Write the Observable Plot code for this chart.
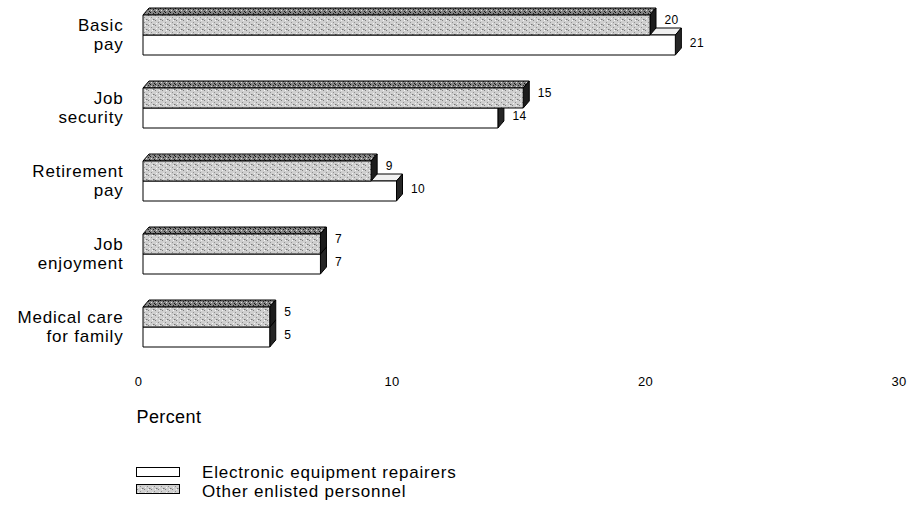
<!DOCTYPE html>
<html><head><meta charset="utf-8">
<script src="https://cdn.jsdelivr.net/npm/d3@7"></script>
<script src="https://cdn.jsdelivr.net/npm/@observablehq/plot@0.6"></script>
<style>
body{margin:0;background:#fff;font-family:"Liberation Sans",Arial,Helvetica,sans-serif;color:#000;}
#chart{position:relative;width:917px;}
#chart svg text{letter-spacing:0.4px;}
#chart svg .cat text{letter-spacing:0.8px;}
#legend{position:relative;width:917px;height:64px;}
#legend .lbox{position:absolute;}
#legend .ltxt{position:absolute;left:202px;font-size:17px;line-height:17px;letter-spacing:0.8px;white-space:nowrap;}
</style></head><body><div id="chart"></div>
<script>
const categories = ["Basic pay","Job security","Retirement pay","Job enjoyment","Medical care for family"];
const categoryLabels = ["Basic\npay","Job\nsecurity","Retirement\npay","Job\nenjoyment","Medical care\nfor family"];
const repairers = [21,14,10,7,5];
const otherEnlisted = [20,15,9,7,5];
const xTicks = [0,10,20,30];
const seriesNames = ["Electronic equipment repairers","Other enlisted personnel"];
const axisTitle = "Percent";

const rows = categories.map((c,i)=>({category:c,label:categoryLabels[i],repairers:repairers[i],other:otherEnlisted[i]}));

const PAD_IN = 0.4576;
const DX = 6, DY = 7;
const H = 445;

const patternDefs = `
<pattern id="stipL" width="7" height="5" patternUnits="userSpaceOnUse">
  <rect width="7" height="5" fill="#cfcfcf"/>
  <rect x="1" y="0" width="1" height="1" fill="#808080"/>
  <rect x="4" y="2" width="1" height="1" fill="#8e8e8e"/>
  <rect x="2" y="3" width="1" height="1" fill="#f4f4f4"/>
  <rect x="6" y="4" width="1" height="1" fill="#777"/>
  <rect x="5" y="0" width="1" height="1" fill="#f6f6f6"/>
  <rect x="0" y="4" width="1" height="1" fill="#a0a0a0"/>
</pattern>
<pattern id="stipD" width="5" height="4" patternUnits="userSpaceOnUse">
  <rect width="5" height="4" fill="#858585"/>
  <rect x="0" y="0" width="1" height="1" fill="#111"/>
  <rect x="3" y="1" width="1" height="1" fill="#222"/>
  <rect x="1" y="2" width="1" height="1" fill="#ddd"/>
  <rect x="4" y="3" width="1" height="1" fill="#1a1a1a"/>
</pattern>`;

function poly(g, pts, fill) {
  g.append("polygon")
    .attr("points", pts.map(p => p.join(",")).join(" "))
    .attr("fill", fill).attr("stroke", "#000").attr("stroke-width", 1)
    .attr("stroke-linejoin", "round");
}

function drawBar(g, x0, xv, yT, yB, front, top, side) {
  poly(g, [[x0, yT], [x0 + DX, yT - DY], [xv + DX, yT - DY], [xv, yT]], top);
  poly(g, [[xv, yT], [xv + DX, yT - DY], [xv + DX, yB - DY], [xv, yB]], side);
  poly(g, [[x0, yT], [xv, yT], [xv, yB], [x0, yB]], front);
}

function bars3d(index, scales) {
  const x = scales.x, y = scales.y;
  const step = y(categories[1]) - y(categories[0]);
  let bw = (typeof y.bandwidth === "function") ? y.bandwidth() : y.bandwidth;
  if (!(bw > 0)) bw = step * (1 - PAD_IN);
  const g = d3.create("svg:g");
  g.append("defs").html(patternDefs);
  const x0 = x(0);
  rows.forEach(r => {
    const y0 = y(r.category), h = bw / 2;
    drawBar(g, x0, x(r.repairers), y0 + h, y0 + bw, "#fff", "#f0f0f0", "#262626");
    drawBar(g, x0, x(r.other), y0, y0 + h, "url(#stipL)", "url(#stipD)", "#1c1c1c");
  });
  return g.node();
}

const chart = Plot.plot({
  width: 917,
  height: H,
  marginLeft: 143,
  marginRight: 13.5,
  marginTop: 13,
  marginBottom: H - 348,
  style: {fontFamily: '"Liberation Sans", Arial, Helvetica, sans-serif', fontSize: "13px", color: "#000", background: "#fff"},
  x: {domain: [0, 30]},
  y: {type: "band", domain: categories, paddingInner: PAD_IN, paddingOuter: 0, axis: null},
  marks: [
    bars3d,
    Plot.axisX(xTicks, {tickSize: 0, tickPadding: 28, dx: -5, fontSize: 13, fill: "#000"}),
    Plot.text(rows, {y: "category", text: "label", frameAnchor: "left", textAnchor: "end", dx: -20, dy: -1, fontSize: 17, lineHeight: 1.12, fill: "#000", className: "cat"}),
    Plot.text(rows, {x: "other", y: "category", text: d => String(d.other), dx: 14, dy: -15, textAnchor: "start", fontSize: 12, fill: "#000"}),
    Plot.text(rows, {x: "repairers", y: "category", text: d => String(d.repairers), dx: 14, dy: 8, textAnchor: "start", fontSize: 12, fill: "#000"}),
    Plot.text([axisTitle], {frameAnchor: "bottom-left", text: d => d, dx: -7, dy: 74.5, textAnchor: "start", fontSize: 18, fill: "#000"})
  ]
});
document.getElementById("chart").appendChild(chart);

// legend below the SVG
const legend = document.createElement("div");
legend.id = "legend";
const legendDefs = patternDefs.replace(/id="stipL"/, 'id="lgL"').replace(/id="stipD"/, 'id="lgD"');
const swatches = [
  {name: seriesNames[0], fill: "#fff", boxTop: 22, txtTop: 19},
  {name: seriesNames[1], fill: "url(#lgL)", boxTop: 39, txtTop: 38}
];
legend.innerHTML = `<svg width="0" height="0" style="position:absolute"><defs>${legendDefs}</defs></svg>` +
  swatches.map(s =>
    `<svg class="lbox" style="left:136px;top:${s.boxTop}px" width="44" height="10"><rect x="0.5" y="0.5" width="43" height="9" fill="${s.fill}" stroke="#000"/></svg>` +
    `<div class="ltxt" style="top:${s.txtTop}px">${s.name}</div>`).join("");
document.getElementById("chart").appendChild(legend);
</script>
</body></html>
